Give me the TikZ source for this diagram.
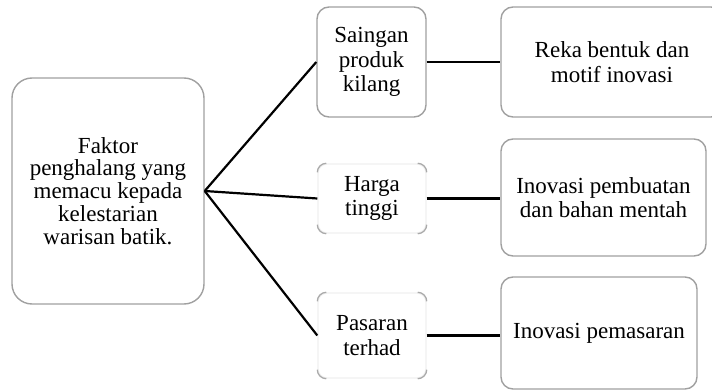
\documentclass[tikz,border=0pt]{standalone}
\usepackage{fontspec}
\setmainfont{Liberation Serif}
\definecolor{boxgray}{RGB}{160,160,160}
\definecolor{faintgray}{RGB}{240,240,240}
\definecolor{cornergray}{RGB}{170,170,170}
\tikzset{
  box/.style={draw=boxgray, line width=1.4pt, rounded corners=12pt, inner sep=0pt, align=center,
    font=\fontsize{23}{24.5}\selectfont},
  faintbox/.style={box, draw=faintgray},
  link/.style={draw=black, line width=2.2pt},
  corner/.style={draw=cornergray, line width=1.3pt, rounded corners=9pt}
}
\begin{document}
\begin{tikzpicture}[x=1pt,y=-1pt]
\useasboundingbox (0,0) rectangle (712,390);
% left box
\node[box, rounded corners=20pt, minimum width=192pt, minimum height=226pt,
  font=\fontsize{23}{22.9}\selectfont] (L) at (108,191)
  {Faktor\\penghalang yang\\memacu kepada\\kelestarian\\warisan batik.};
% middle column
\node[box, minimum width=109pt, minimum height=110pt] (S) at (371.5,62) {Saingan\\produk\\kilang};
\node[faintbox, rounded corners=9pt, minimum width=108pt, minimum height=69pt] (H) at (372,198.5) {Harga\\tinggi};
\node[faintbox, rounded corners=9pt, minimum width=108pt, minimum height=85pt] (P) at (372,335.5) {Pasaran\\terhad};
% right column
\node[box, minimum width=222pt, minimum height=110pt] (R) at (612,62) {Reka bentuk dan\\motif inovasi};
\node[box, minimum width=205pt, minimum height=117pt] (B) at (603.5,197.5) {Inovasi pembuatan\\dan bahan mentah};
\node[box, minimum width=196pt, minimum height=112pt] (M) at (599,333) {Inovasi pemasaran};
% corners of faint boxes
\foreach \n in {H,P}{
  \draw[corner] ([yshift=-9pt]\n.north west) -- (\n.north west) -- ([xshift=9pt]\n.north west);
  \draw[corner] ([xshift=-9pt]\n.north east) -- (\n.north east) -- ([yshift=-9pt]\n.north east);
  \draw[corner] ([yshift=9pt]\n.south west) -- (\n.south west) -- ([xshift=9pt]\n.south west);
  \draw[corner] ([xshift=-9pt]\n.south east) -- (\n.south east) -- ([yshift=9pt]\n.south east);
}
% connectors
\draw[link] (L.east) -- (S.west);
\draw[link] (L.east) -- (H.west);
\draw[link] (L.east) -- (P.west);
\draw[link] (S.east) -- (S.east -| R.west);
\draw[link] (H.east) -- (H.east -| B.west);
\draw[link] (P.east) -- (P.east -| M.west);
\end{tikzpicture}
\end{document}
